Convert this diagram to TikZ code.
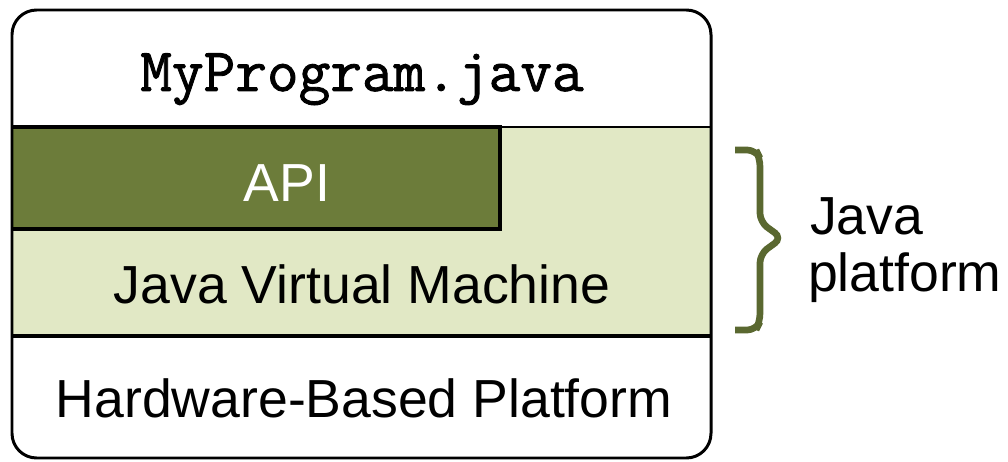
\documentclass[tikz,border=0pt]{standalone}
\usepackage{fontspec}
\setmainfont{Liberation Sans}
\newfontfamily\progfont[FakeBold=1.4]{Latin Modern Mono}
\definecolor{apigreen}{RGB}{108,124,58}
\definecolor{jvmgreen}{RGB}{225,232,197}
\definecolor{bracegreen}{RGB}{90,104,48}
\begin{document}
\begin{tikzpicture}[x={(0.02cm,0cm)},y={(0cm,-0.02cm)},every node/.style={font=\fontsize{30.5}{35}\selectfont, inner sep=0pt, outer sep=0pt}]
\useasboundingbox (0,0) rectangle (1008,462);
\fill[jvmgreen] (13,127) rectangle (711,336);
\fill[apigreen] (13,127) rectangle (500,229);
\draw[line width=2.2pt] (13,127) -- (500,127) -- (500,229) -- (13,229);
\draw[line width=1.7pt] (13,127) -- (711,127);
\draw[line width=2.6pt] (13,336) -- (711,336);
\draw[line width=1.7pt, rounded corners=14] (12,10) rectangle (711,458);
% brace for the platform layers
\draw[bracegreen, line width=3.8pt, rounded corners=5] (735,150) -- (756,150) -- (760,158) -- (760,222) -- (782,238) -- (760,254) -- (760,322) -- (756,330) -- (735,330);
\node[anchor=base] (prog) at (362,91) {\fontsize{35}{40}\selectfont\progfont MyProgram.java};
\node[anchor=base, white] (api) at (287,202) {API};
\node[anchor=base] (jvm) at (362,304) {Java Virtual Machine};
\node[anchor=base] (hw) at (364,418) {Hardware-Based Platform};
\node[anchor=base west] (java) at (810,235) {Java};
\node[anchor=base west] (plat) at (808,292) {platform};
\end{tikzpicture}
\end{document}
